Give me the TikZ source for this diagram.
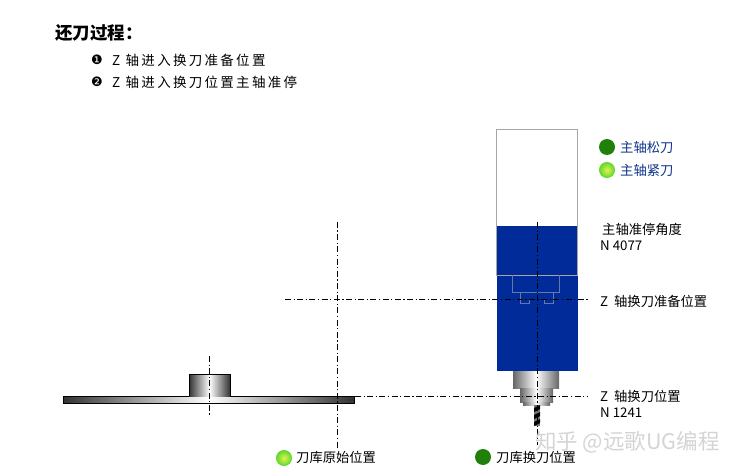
\documentclass[tikz,border=0pt]{standalone}
\usepackage{xcolor}
\usepackage{fontspec}
\setmainfont{Noto Sans CJK SC}
\newfontfamily\dingfont{DejaVu Sans}
\usetikzlibrary{positioning}
\definecolor{spindleblue}{rgb}{0.0,0.17,0.60}
\definecolor{lampdark}{rgb}{0.13,0.50,0.04}
\definecolor{lamplight}{rgb}{0.40,0.85,0.20}
\definecolor{lampcore}{rgb}{0.88,0.95,0.30}
\definecolor{labelblue}{rgb}{0.05,0.20,0.55}

\begin{document}
\begin{tikzpicture}[x=1pt, y=-1pt,
    label/.style={inner sep=0pt, anchor=west, font=\fontsize{13.3}{15}\selectfont},
    steptext/.style={inner sep=0pt, anchor=west, font=\fontsize{13.5}{15}\selectfont\addfontfeatures{LetterSpace=17}},
    onlamp/.style={circle, inner sep=0pt, minimum size=15pt, draw=lamplight, line width=1pt, inner color=lampcore, outer color=lamplight},
    offlamp/.style={circle, inner sep=0pt, minimum size=16pt, fill=lampdark},
    centerline/.style={line width=0.7pt, dash pattern=on 6pt off 2.5pt on 1.2pt off 2.5pt},
    steel/.style={left color=black!60, right color=black!60, middle color=white},
    darksteel/.style={left color=black!80, right color=black!80, middle color=white},
    outline/.style={draw=black!35, line width=1pt},
    innerline/.style={draw=black!30!spindleblue!60!white, line width=0.8pt}
]
\useasboundingbox (0,0) rectangle (737,476);

% header
\node[label, font=\fontsize{17.5}{19}\selectfont\bfseries] (title) at (55,33) {还刀过程：};
\node[label, font=\fontsize{13}{15}\dingfont] (mark1) at (91,60) {❶};
\node[steptext] (step1) at (112,60) {Z 轴进入换刀准备位置};
\node[label, font=\fontsize{13}{15}\dingfont] (mark2) at (91,82) {❷};
\node[steptext] (step2) at (112,82) {Z 轴进入换刀位置主轴准停};

% magazine
\shade[darksteel] (63,396) rectangle (354,403);
\draw[black, line width=0.9pt] (63,396) rectangle (354,403);
\shade[darksteel] (189,374) rectangle (230,396);
\draw[black, line width=0.9pt] (189,396) -- (189,374) -- (230,374) -- (230,396);

% spindle
\fill[spindleblue] (497,226) rectangle (578,371);
\draw[outline] (496,130) rectangle (577,275);
\shade[steel] (513,371) rectangle (559,388);
\shade[steel] (520,388) rectangle (553,402);
\shade[steel] (523,402) rectangle (550,405);
\fill[black!55] (534,405) rectangle (540,426);
\fill[black] (534,408) -- (540,405) -- (540,409) -- (534,412) -- cycle;
\fill[black] (534,415) -- (540,412) -- (540,416) -- (534,419) -- cycle;
\fill[black] (534,422) -- (540,419) -- (540,423) -- (534,426) -- cycle;
\draw[innerline] (512,275) -- (512,292) -- (559,292) -- (559,275);
\draw[innerline] (520,292) -- (520,303) -- (529,303) -- (529,299);
\draw[innerline] (553,292) -- (553,303) -- (544,303) -- (544,299);

% center lines
\coordinate (spindletop) at (537,222);
\coordinate (spindlebot) at (537,445);
\coordinate (homeTop) at (337,222);
\coordinate (homeBot) at (337,448);
\coordinate (readyL) at (285,299);
\coordinate (readyR) at (588,299);
\coordinate (changeL) at (355,396);
\coordinate (changeR) at (588,396);
\coordinate (hubTop) at (209,356);
\coordinate (hubBot) at (209,417);
\draw[centerline] (spindletop) -- (spindlebot);
\draw[centerline] (homeTop) -- (homeBot);
\draw[centerline] (readyL) -- (readyR);
\draw[centerline] (changeL) -- (changeR);
\draw[centerline] (hubTop) -- (hubBot);

% lamps
\node[offlamp] (unclamp) at (607,147) {};
\node[onlamp] (clamp) at (607,170) {};
\node[onlamp] (home) at (284,458) {};
\node[offlamp] (change) at (483,457) {};

% labels
\node[label, text=labelblue] (unclampText) at (620,147) {主轴松刀};
\node[label, text=labelblue] (clampText) at (620,170) {主轴紧刀};
\node[label] (angleText) at (602,229) {主轴准停角度};
\node[label] (angleVal) at (600,246) {N 4077};
\node[label] (readyText) at (600,301) {Z\ \ 轴换刀准备位置};
\node[label] (changeText) at (600,396) {Z\ \ 轴换刀位置};
\node[label] (changeVal) at (600,413) {N 1241};
\node[label] (homeText) at (296,457) {刀库原始位置};
\node[label] (changeMag) at (496,457) {刀库换刀位置};
\node[label, text=black!17, font=\fontsize{21.5}{24}\selectfont] (mark) at (535,442) {知乎 @远歌UG编程};

\end{tikzpicture}
\end{document}
